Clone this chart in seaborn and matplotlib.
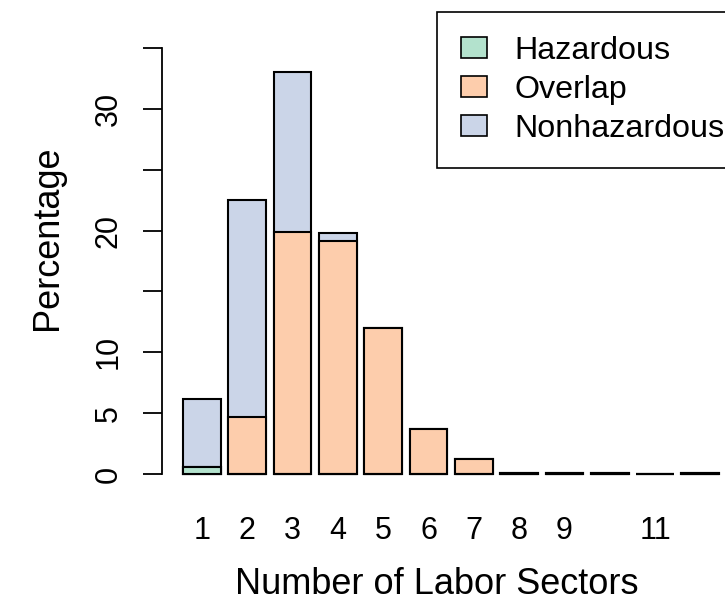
import numpy as np
import pandas as pd
import matplotlib
matplotlib.use('Agg')
import matplotlib.pyplot as plt
from matplotlib.patches import Patch
import seaborn as sns

# Values (percent of cases by number of labor sectors)
sectors = ['1', '2', '3', '4', '5', '6', '7', '8', '9', '10', '11', '12']
tick_labels = ['1', '2', '3', '4', '5', '6', '7', '8', '9', '', '11', '']
hazardous = [0.6, 0, 0, 0, 0, 0, 0, 0, 0, 0, 0, 0]
overlap = [0, 4.7, 19.9, 19.15, 12.0, 3.7, 1.2, 0.1, 0.1, 0.1, 0.02, 0.1]
nonhazardous = [5.6, 17.8, 13.1, 0.65, 0, 0, 0, 0, 0, 0, 0, 0]

series_names = ['Hazardous', 'Overlap', 'Nonhazardous']
colors = ['#B3E2CD', '#FDCDAC', '#CBD5E8']

df = pd.DataFrame({'sector': sectors, 'Hazardous': hazardous,
                   'Overlap': overlap, 'Nonhazardous': nonhazardous})
# cumulative tops, drawn from the tallest layer down so they stack visually
df['top_haz'] = df['Hazardous']
df['top_over'] = df['Hazardous'] + df['Overlap']
df['top_all'] = df['top_over'] + df['Nonhazardous']

sns.set_style('white')
plt.rcParams['font.family'] = ['Liberation Sans', 'DejaVu Sans']
plt.rcParams['text.color'] = 'black'
plt.rcParams['axes.labelcolor'] = 'black'
plt.rcParams['xtick.color'] = 'black'
plt.rcParams['ytick.color'] = 'black'

fig = plt.figure(figsize=(7.25, 6.06), dpi=100)
ax = fig.add_axes([162 / 725, 0.1977, 1 - 162 / 725, 0.7432])

bar_kw = dict(order=sectors, width=1 / 1.2, edgecolor='black', linewidth=1.5,
              saturation=1, errorbar=None, ax=ax)
sns.barplot(data=df, x='sector', y='top_all', color=colors[2], **bar_kw)
sns.barplot(data=df, x='sector', y='top_over', color=colors[1], **bar_kw)
sns.barplot(data=df, x='sector', y='top_haz', color=colors[0], **bar_kw)

# axes limits so the plot runs off the right edge like the reference
ax.set_xlim(-0.883, 11.545)
ax.set_ylim(-1, 36)

# y axis in R style: line from 0 to 35, rotated labels, some skipped
for s in ['top', 'right', 'bottom']:
    ax.spines[s].set_visible(False)
ax.spines['left'].set_bounds(0, 35)
ax.spines['left'].set_linewidth(1.3)
ax.spines['left'].set_color('black')
yt = [0, 5, 10, 15, 20, 25, 30, 35]
ax.set_yticks(yt)
ax.set_yticklabels(['0', '5', '10', '', '20', '', '30', ''], rotation=90, va='center')
ax.tick_params(axis='y', left=True, length=13.5, width=1.3, pad=14, labelsize=22)

ax.set_xticks(range(len(sectors)))
ax.set_xticklabels(tick_labels)
ax.tick_params(axis='x', length=0, pad=21.5, labelsize=22)

ax.set_xlabel('Number of Labor Sectors', fontsize=26, va='center')
ax.xaxis.set_label_coords(0.4885, -0.218)
ax.set_ylabel('Percentage', fontsize=26, va='center')
ax.yaxis.set_label_coords(-0.204, 0.551)

# legend box, partly cut off at the right edge
handles = [Patch(facecolor=c, edgecolor='black', linewidth=1.2) for c in colors]
leg = fig.legend(handles, series_names, loc='upper left',
                 bbox_to_anchor=(437 / 725, 1 - 12 / 606), bbox_transform=fig.transFigure,
                 borderaxespad=0, fontsize=23.2, fancybox=False, framealpha=1,
                 edgecolor='black', handlelength=0.8, handleheight=0.62,
                 handletextpad=0.85, borderpad=0.75, labelspacing=0.27)
leg.get_frame().set_linewidth(1.2)

plt.savefig('out.png', dpi=100)
